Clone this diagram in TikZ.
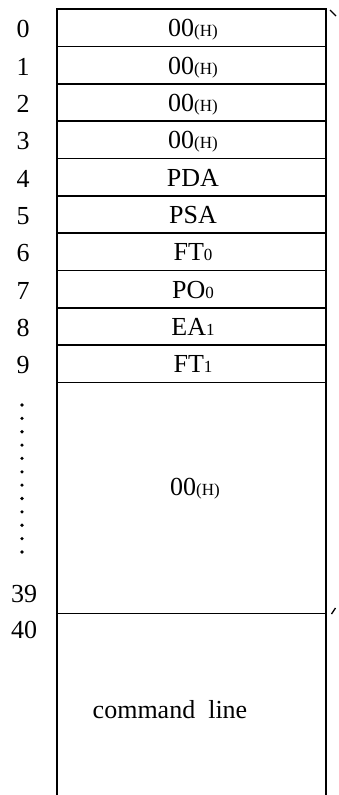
\documentclass[tikz,border=0pt]{standalone}
\usepackage{fontspec}
\setmainfont{Liberation Serif}
\newcommand{\sm}[1]{{\fontsize{17}{20}\selectfont #1}}
\begin{document}
\begin{tikzpicture}[x=1pt,y=-1pt,line width=1.6pt,font=\fontsize{26}{30}\selectfont]
\useasboundingbox (0,0) rectangle (338,795);
\draw (57,795)--(57,9)--(326,9)--(326,795);
\foreach \i in {1,...,10} \draw (57,9+37.35*\i)--(326,9+37.35*\i);
\draw (57,613.5)--(326,613.5);
\foreach \t [count=\i from 0] in {00\sm{(H)},00\sm{(H)},00\sm{(H)},00\sm{(H)},PDA,PSA,FT\sm{0},PO\sm{0},EA\sm{1},FT\sm{1}}{
  \node[anchor=base] (n\i) at (23,37.7+37.35*\i) {\i};
  \node[anchor=base] (r\i) at (193,36.7+37.35*\i) {\t};}
\foreach \j in {0,...,11} \fill (22,405+13.36*\j) circle (1.8);
\node[anchor=base] (rest) at (195,495) {00\sm{(H)}};
\node[anchor=base] (n39) at (24,602) {39};
\node[anchor=base] (n40) at (24,638) {40};
\node[anchor=base] (cmd) at (170,718) {command\ \ line};
\coordinate (ta) at (330,10);\coordinate (tb) at (336,16);
\coordinate (ba) at (331.5,614);\coordinate (bb) at (335.5,608);
\draw[line width=1.3pt] (ta)--(tb);\draw[line width=1.3pt] (ba)--(bb);
\end{tikzpicture}
\end{document}
